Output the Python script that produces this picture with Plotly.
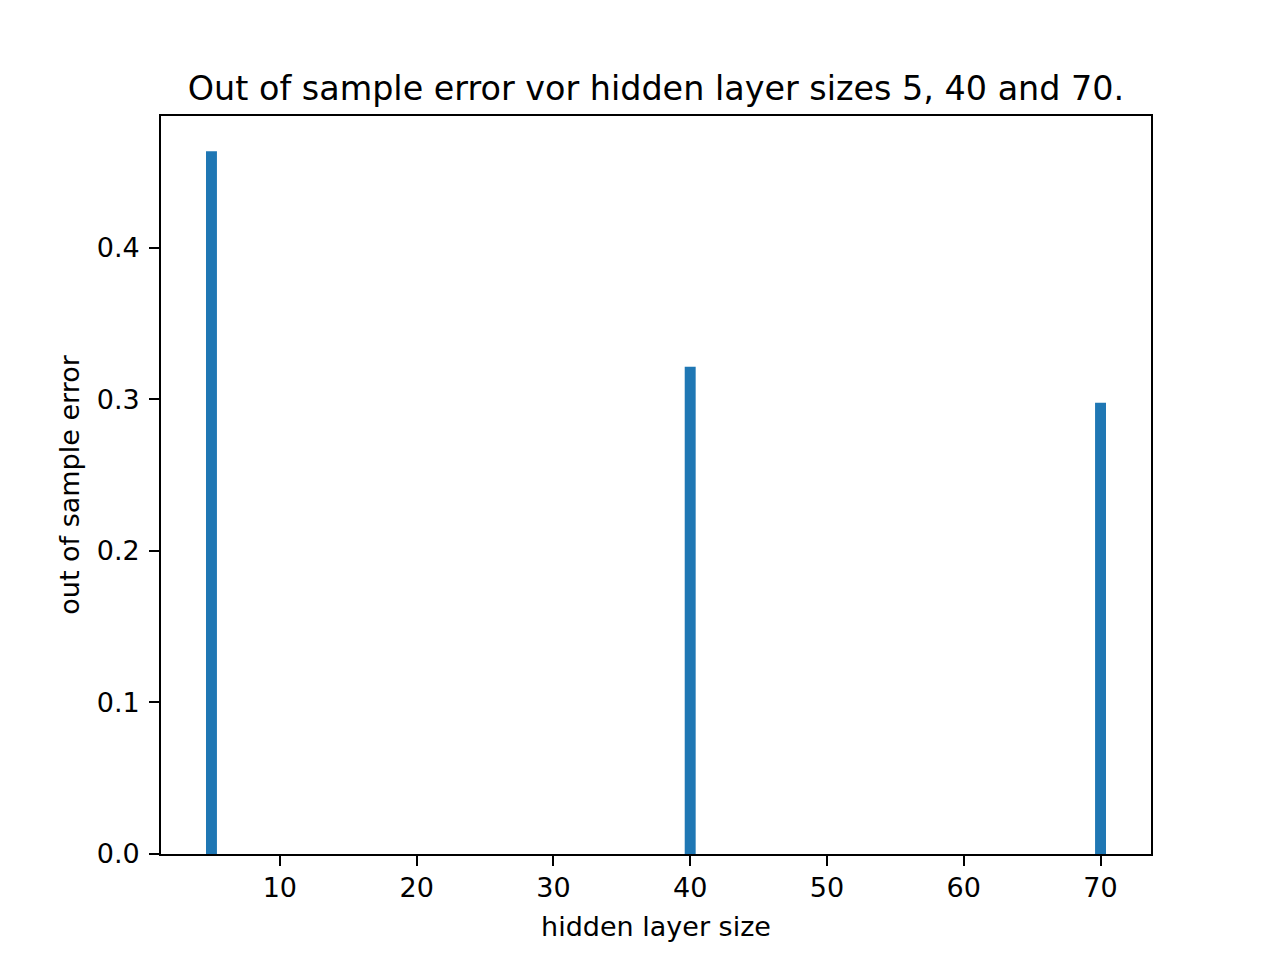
import plotly.graph_objects as go

# hidden layer sizes and their out of sample error
hidden_sizes = [5, 40, 70]
oos_error = [0.4639, 0.3216, 0.2979]

font = "DejaVu Sans"

fig = go.Figure()
fig.add_trace(go.Bar(x=hidden_sizes, y=oos_error, width=0.8,
                     marker=dict(color="#1f77b4", line=dict(width=0))))

axis_style = dict(showline=True, linecolor="black", linewidth=2.2, mirror=True,
                  ticks="outside", ticklen=9.7, tickwidth=2.2, tickcolor="black",
                  showgrid=False, zeroline=False,
                  tickfont=dict(family=font, size=27, color="black"))

fig.update_layout(
    width=1280, height=960,
    margin=dict(l=153, r=137, t=108, b=114),
    plot_bgcolor="white", paper_bgcolor="white",
    showlegend=False,
    title=dict(text="Out of sample error vor hidden layer sizes 5, 40 and 70.",
               x=(153 + 1143) / 2 / 1280, xanchor="center",
               y=1 - 80 / 960, yanchor="middle",
               font=dict(family=font, size=33.4, color="black")),
    xaxis=dict(range=[1.31, 73.69], tickvals=[10, 20, 30, 40, 50, 60, 70],
               ticklabelstandoff=-1,
               title=dict(text="hidden layer size", standoff=15,
                          font=dict(family=font, size=27, color="black")),
               **axis_style),
    yaxis=dict(range=[0, 0.4871], tickvals=[0.0, 0.1, 0.2, 0.3, 0.4],
               tickformat=".1f", ticklabelstandoff=4,
               title=dict(text="out of sample error", standoff=9,
                          font=dict(family=font, size=27, color="black")),
               **axis_style),
)

fig.write_html("out.html")
